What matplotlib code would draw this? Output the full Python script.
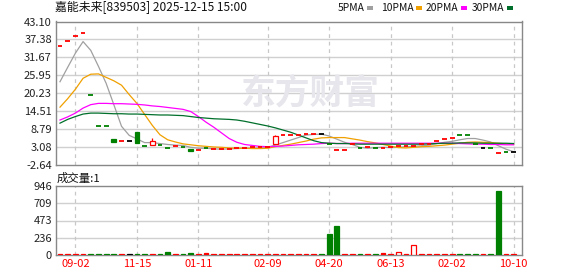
"""
嘉能未来 K线 + 均线 + 成交量 图
"""

import matplotlib
matplotlib.use("Agg")
import matplotlib.pyplot as plt
from matplotlib.patches import Rectangle

plt.rcParams["font.family"] = ["Noto Sans CJK SC", "DejaVu Sans"]
plt.rcParams["axes.unicode_minus"] = False

# ── 数据 ──
opens = [35.3, 36.8, 38.5, 39.3, 19.6, 9.7, 9.7, 5.6, 4.9, 4.9,
         7.85, 3.4, 3.65, 3.8, 2.8, 3.4, 3.1, 2.4, 2.1, 2.8,
         2.6, 2.45, 2.6, 2.7, 2.9, 3.0, 3.0, 3.2, 3.9, 6.9,
         6.9, 7.0, 7.1, 7.4, 7.4, 4.1, 2.05, 2.05, 3.9, 2.7,
         3.0, 2.9, 2.7, 3.2, 3.45, 3.5, 3.45, 3.95, 4.0, 4.9,
         5.5, 5.9, 6.9, 6.9, 4.05, 2.7, 2.7, 1.1, 1.4, 1.4]
closes = [35.3, 36.8, 38.5, 39.3, 19.6, 9.7, 9.7, 4.8, 4.9, 4.9,
          4.35, 3.4, 4.9, 3.8, 2.8, 3.4, 3.1, 1.95, 2.1, 2.8,
          2.6, 2.45, 2.6, 2.7, 2.9, 3.0, 3.0, 3.2, 6.6, 6.9,
          6.9, 7.0, 7.1, 7.4, 7.4, 4.1, 2.05, 2.05, 3.9, 2.7,
          3.0, 2.9, 2.7, 3.2, 3.45, 3.5, 3.45, 3.95, 4.0, 4.9,
          5.5, 5.9, 6.9, 6.9, 4.05, 2.7, 2.7, 1.1, 1.4, 1.4]
highs = [max(o, c) for o, c in zip(opens, closes)]
highs[12] = 6.1
highs[28] = 6.8
lows = [min(o, c) for o, c in zip(opens, closes)]

# u=涨(红) d=跌(绿) f=平(黑)
candle_dir = ("uuuuddddufddudduddud"
              "uuuuuuuuuuuuuufduuud"
              "uduuuuuuuuuudddfdudf")
vol_dir = ("uuuuddddufdduddudduu"
           "uuuuuuuuuuuuuuddduud"
           "uduuuuuuuuuudddudduu")
vol_hollow = [44, 46]

volumes = [15, 15, 15, 15, 15, 15, 15, 15, 15, 15,
           15, 15, 15, 15, 45, 15, 15, 30, 15, 30,
           15, 15, 15, 15, 15, 15, 15, 15, 15, 15,
           15, 15, 15, 15, 15, 285, 395, 15, 15, 15,
           15, 15, 28, 15, 45, 15, 140, 15, 15, 15,
           15, 15, 15, 15, 15, 15, 15, 880, 15, 15]

ma5 = [23.9, 28.5, 33.0, 36.7, 33.9, 28.8, 23.4, 16.6, 9.7, 6.8,
       5.7, 4.5, 4.5, 4.2, 3.9, 3.7, 3.6, 3.0, 2.7, 2.7,
       2.5, 2.4, 2.5, 2.6, 2.7, 2.7, 2.8, 3.0, 3.7, 4.5,
       5.3, 6.1, 6.9, 7.1, 7.2, 6.6, 5.6, 4.6, 3.9, 3.0,
       2.7, 2.9, 3.0, 2.9, 3.0, 3.2, 3.3, 3.5, 3.7, 4.2,
       4.6, 4.9, 5.4, 5.8, 5.8, 5.3, 4.7, 3.5, 2.4, 1.6]
ma10 = [15.8, 18.5, 21.5, 25.0, 26.3, 26.4, 25.3, 24.2, 22.8, 19.8,
        17.0, 13.5, 10.0, 7.0, 5.4, 4.7, 4.1, 3.8, 3.5, 3.3,
        3.1, 3.0, 2.8, 2.7, 2.7, 2.6, 2.6, 2.7, 3.2, 3.6,
        4.0, 4.5, 5.0, 5.6, 6.0, 6.1, 6.1, 6.1, 5.7, 5.3,
        4.8, 4.4, 3.9, 3.4, 2.9, 2.8, 3.0, 3.2, 3.3, 3.5,
        3.7, 4.0, 4.3, 4.6, 4.7, 4.6, 4.5, 4.3, 4.1, 4.0]
ma20 = [11.7, 12.7, 13.9, 15.5, 16.6, 17.0, 17.0, 16.9, 16.9, 16.8,
        16.7, 16.5, 16.2, 16.0, 15.7, 15.4, 15.1, 14.4, 12.8, 11.0,
        9.4, 7.6, 5.8, 4.6, 3.9, 3.6, 3.3, 3.2, 3.3, 3.4,
        3.6, 3.8, 3.9, 4.0, 4.2, 4.3, 4.2, 4.2, 4.3, 4.3,
        4.3, 4.3, 4.3, 4.3, 4.3, 4.3, 4.3, 4.3, 4.3, 4.3,
        4.3, 4.3, 4.2, 4.1, 4.0, 4.0, 3.9, 3.9, 3.8, 3.8]
ma30 = [10.7, 11.9, 12.8, 13.6, 13.9, 13.9, 13.8, 13.7, 13.7, 13.6,
        13.6, 13.5, 13.4, 13.3, 13.3, 13.2, 13.1, 12.8, 12.5, 12.3,
        12.1, 12.0, 11.9, 11.7, 11.3, 10.8, 10.3, 9.8, 9.2, 8.5,
        7.8, 6.9, 6.0, 5.1, 4.5, 4.3, 4.2, 4.2, 4.1, 4.0,
        4.0, 4.0, 4.0, 4.0, 4.0, 4.0, 4.0, 4.0, 4.1, 4.2,
        4.3, 4.3, 4.4, 4.4, 4.4, 4.3, 4.3, 4.3, 4.3, 4.2]

price_ticks = [-2.64, 3.08, 8.79, 14.51, 20.23, 25.95, 31.67, 37.38, 43.10]
vol_ticks = [0, 236, 473, 709, 946]
date_pos = [2, 10, 18, 27, 35, 43, 51, 59]
date_labels = ["09-02", "11-15", "01-11", "02-09", "04-20", "06-13", "02-02", "10-10"]

ma_names = ["5PMA", "10PMA", "20PMA", "30PMA"]
ma_colors = ["#a0a0a0", "#f0a000", "#ff00ff", "#006f2b"]

RED, GREEN, BLACK = "#ff0000", "#008000", "#000000"
DIR_COLOR = {"u": RED, "d": GREEN, "f": BLACK}
W, H = 578, 276


def style_axes(ax, ticks, fmt):
    """统一边框、网格、刻度样式。"""
    for sp in ax.spines.values():
        sp.set_color("#888888")
        sp.set_linewidth(1.0)
    ax.set_yticks(ticks)
    ax.set_yticklabels([fmt(t) for t in ticks], fontsize=8, color="#222222")
    ax.tick_params(axis="both", length=0, pad=3)
    for t in ticks[1:-1]:
        ax.axhline(t, color="#d0d0d0", linewidth=1.0, zorder=0)
    for p in date_pos:
        ax.axvline(p, color="#c8c8c8", linewidth=0.9, linestyle=(0, (3, 3)), zorder=0)
    ax.set_xlim(-0.52, 60.08)


fig = plt.figure(figsize=(W / 100, H / 100), dpi=100)
ax1 = fig.add_axes([56 / W, 1 - 165 / H, 466 / W, 143.5 / H])
ax2 = fig.add_axes([56 / W, 1 - 255 / H, 466 / W, 69 / H])

# ── 上图：K线 + 均线 ──
style_axes(ax1, price_ticks, lambda t: f"{t:.2f}")
ax1.set_ylim(price_ticks[0], price_ticks[-1])
ax1.set_xticks([])

# 水印
fig.text(310 / W, 1 - 93 / H, "东方财富", fontsize=25, fontweight="bold",
         color="#e6e6ec", ha="center", va="center", zorder=0)

x = list(range(len(closes)))
for ma, color in zip([ma5, ma10, ma20, ma30], ma_colors):
    ax1.plot(x, ma, color=color, linewidth=0.9, zorder=2)

bw = 0.62
for i in x:
    o, c, h, l = opens[i], closes[i], highs[i], lows[i]
    color = DIR_COLOR[candle_dir[i]]
    if h > max(o, c) or l < min(o, c):
        ax1.vlines(i, l, h, color=color, linewidth=0.9, zorder=3)
    if abs(o - c) < 1e-9:
        ax1.hlines(c, i - bw / 2, i + bw / 2, color=color, linewidth=1.3, zorder=4)
    else:
        hollow = c > o
        ax1.add_patch(Rectangle((i - bw / 2, min(o, c)), bw, abs(c - o),
                                facecolor="white" if hollow else color,
                                edgecolor=color, linewidth=0.9, zorder=4))

# ── 下图：成交量 ──
style_axes(ax2, vol_ticks, lambda t: f"{t}")
ax2.set_ylim(0, 946)
for i in x:
    color = DIR_COLOR[vol_dir[i]]
    face = "white" if i in vol_hollow else color
    ax2.bar(i, volumes[i], width=bw, facecolor=face, edgecolor=color,
            linewidth=0.9, zorder=3)
ax2.set_xticks(date_pos)
ax2.set_xticklabels(date_labels, fontsize=8, color=RED)

# ── 文字 ──
fig.text(55 / W, 1 - 8 / H, "嘉能未来[839503] 2025-12-15 15:00",
         fontsize=8.6, color="#111111", va="center", ha="left")
fig.text(57 / W, 1 - 178 / H, "成交量:1", fontsize=8.2, color="#111111",
         va="center", ha="left")

legend_x = [338, 381, 426, 472]
for lx, name, color in zip(legend_x, ma_names, ma_colors):
    t = fig.text(lx / W, 1 - 8 / H, name, fontsize=7.4, color="#111111",
                 va="center", ha="left")
    fig.canvas.draw()
    bb = t.get_window_extent()
    sx = bb.x1 + 2
    fig.patches.append(Rectangle((sx / W, (H - 10) / H), 6 / W, 4 / H,
                                 transform=fig.transFigure, facecolor=color,
                                 edgecolor="none", figure=fig))

fig.savefig("out.png", dpi=100)
plt.close(fig)
